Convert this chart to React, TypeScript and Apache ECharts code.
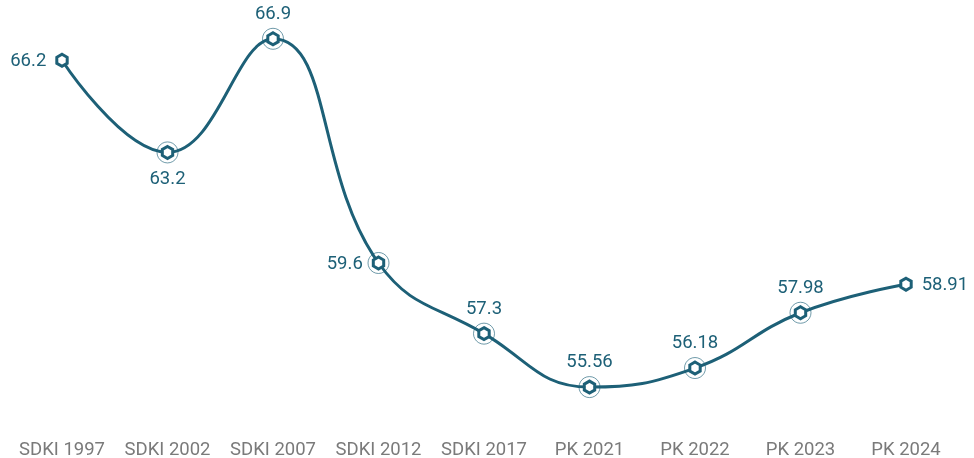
import React, { useEffect, useRef } from "react";
import * as echarts from "echarts";

const categories = ["SDKI 1997", "SDKI 2002", "SDKI 2007", "SDKI 2012", "SDKI 2017", "PK 2021", "PK 2022", "PK 2023", "PK 2024"];
const values = [66.2, 63.2, 66.9, 59.6, 57.3, 55.56, 56.18, 57.98, 58.91];
const labelPositions = ["left", "bottom", "top", "left", "top", "top", "top", "top", "right"];
const ringed = [false, true, true, true, true, true, true, true, false];

const COLOR = "#1d6077";
const HEX = "path://M50,0 L93.3,25 L93.3,75 L50,100 L6.7,75 L6.7,25 Z";

export default function App() {
  const ref = useRef<HTMLDivElement>(null);
  useEffect(() => {
    if (!ref.current) return;
    const chart = echarts.init(ref.current, null, { renderer: "svg" });
    chart.setOption({
      animation: false,
      grid: { left: 62, right: 68, top: 5, bottom: 22 },
      xAxis: {
        type: "category",
        data: categories,
        boundaryGap: false,
        axisLine: { show: false },
        axisTick: { show: false },
        axisLabel: { color: "#7a7a7a", fontSize: 18.5, fontFamily: "Roboto", margin: 4, interval: 0 },
      },
      yAxis: {
        type: "value",
        min: 54,
        max: 68,
        show: false,
        splitLine: { show: false },
      },
      series: [
        {
          type: "scatter",
          data: values.map((v, i) => (ringed[i] ? v : "-")),
          symbol: "circle",
          symbolSize: 21,
          itemStyle: { color: "rgba(255,255,255,0)", borderColor: COLOR, borderWidth: 0.8 },
          z: 1,
          silent: true,
        },
        {
          type: "line",
          data: values.map((v, i) => ({
            value: v,
            label: { position: labelPositions[i] },
          })),
          smooth: 0.45,
          symbol: HEX,
          symbolSize: 12,
          symbolKeepAspect: true,
          showAllSymbol: true,
          lineStyle: { color: COLOR, width: 3 },
          itemStyle: { color: "#ffffff", borderColor: COLOR, borderWidth: 3 },
          label: {
            show: true,
            color: COLOR,
            fontSize: 18.5,
            fontFamily: "Roboto",
            distance: 9,
          },
          z: 2,
        },
      ],
    });
    return () => chart.dispose();
  }, []);
  return <div ref={ref} style={{ position: "fixed", left: 0, top: 0, width: 974, height: 458 }} />;
}
